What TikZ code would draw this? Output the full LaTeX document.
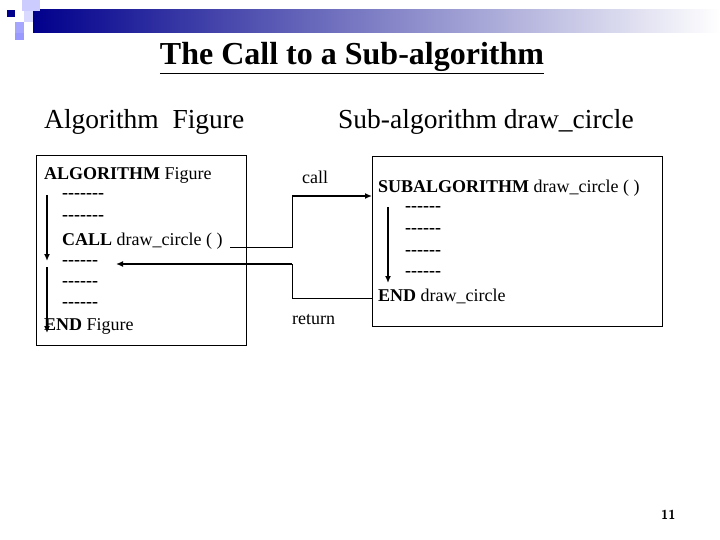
\documentclass[tikz,border=0pt]{standalone}
\usepackage{fontspec}
\usetikzlibrary{arrows.meta}
\setmainfont{Liberation Serif}
\newcommand{\dsix}{\textbf{-{}-{}-{}-{}-{}-}}
\newcommand{\dseven}{\textbf{-{}-{}-{}-{}-{}-{}-}}
\begin{document}
\begin{tikzpicture}[x=1pt,y=-1pt,
  txt/.style={anchor=west,inner sep=0pt,font=\fontsize{18}{20}\selectfont},
  box/.style={draw,line width=0.8pt},
  arr/.style={line width=1.6pt,-{Latex[length=7pt,width=6pt]}},
  thin/.style={line width=0.8pt}]
\useasboundingbox (0,0) rectangle (720,540);
\shade[left color=blue!55!black,right color=white] (33,10) rectangle (720,33);
\fill[blue!55!black] (7,10) rectangle (15,17);
\fill[blue!20!white] (22,0) rectangle (40,11);
\fill[blue!15!white] (24,11) rectangle (33,22);
\fill[blue!35!white] (15,22) rectangle (24,33);
\fill[blue!40!white] (15,33) rectangle (24,40);
\node[font=\bfseries\fontsize{32}{35}\selectfont,inner sep=0pt] (title) at (352,58) {\underline{The Call to a Sub-algorithm}};
\node[txt,font=\fontsize{27.5}{30}\selectfont] (h1) at (44,122) {Algorithm\ \ Figure};
\node[txt,font=\fontsize{27.5}{30}\selectfont] (h2) at (338,122) {Sub-algorithm draw\_circle};
\draw[box] (36,155) rectangle (246,345);
\draw[box] (372,156) rectangle (662,326);
\node[txt] (a1) at (44,175) {\textbf{ALGORITHM} Figure};
\node[txt] (a2) at (62,196) {\dseven};
\node[txt] (a3) at (62,218) {\dseven};
\node[txt] (a4) at (62,241) {\textbf{CALL} draw\_circle ( )};
\node[txt] (a5) at (62,263) {\dsix};
\node[txt] (a6) at (62,284) {\dsix};
\node[txt] (a7) at (62,305) {\dsix};
\node[txt] (a8) at (44,326) {\textbf{END} Figure};
\node[txt] (b1) at (378,188) {\textbf{SUBALGORITHM} draw\_circle ( )};
\node[txt] (b2) at (405,209) {\dsix};
\node[txt] (b3) at (405,231) {\dsix};
\node[txt] (b4) at (405,253) {\dsix};
\node[txt] (b5) at (405,274) {\dsix};
\node[txt] (b6) at (378,296) {\textbf{END} draw\_circle};
\node[txt] (call) at (302,177) {call};
\node[txt] (ret) at (292,320) {return};
\node[txt,font=\sffamily\bfseries\fontsize{13}{14}\selectfont] (pg) at (661,515) {11};
\coordinate (l1s) at (47,195); \coordinate (l1e) at (47,261);
\coordinate (l2s) at (47,267); \coordinate (l2e) at (47,333);
\coordinate (r1s) at (388,207); \coordinate (r1e) at (388,283);
\draw[arr] (l1s) -- (l1e);
\draw[arr] (l2s) -- (l2e);
\draw[arr] (r1s) -- (r1e);
\coordinate (cs) at (230,247); \coordinate (ce) at (372,196);
\draw[thin] (cs) -- (292,247) -- (292,196);
\draw[arr] (292,196) -- (ce);
\coordinate (rs) at (372,298); \coordinate (re) at (116,264);
\draw[thin] (rs) -- (292,298) -- (292,264);
\draw[arr] (292,264) -- (re);
\end{tikzpicture}
\end{document}
